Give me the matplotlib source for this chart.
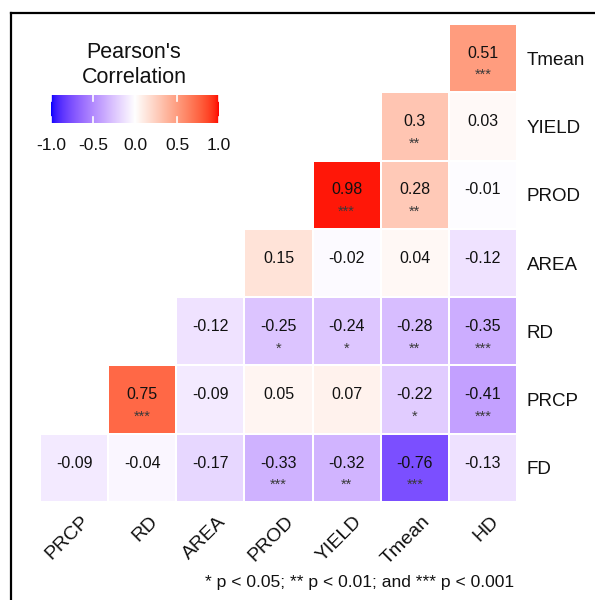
import numpy as np
import matplotlib
matplotlib.use("Agg")
import matplotlib.pyplot as plt
from matplotlib.colors import ListedColormap, Normalize
from matplotlib.lines import Line2D

plt.rcParams["font.family"] = ["Liberation Sans", "DejaVu Sans"]

# ---- data -------------------------------------------------------------
col_labels = ["PRCP", "RD", "AREA", "PROD", "YIELD", "Tmean", "HD"]
row_labels = ["Tmean", "YIELD", "PROD", "AREA", "RD", "PRCP", "FD"]

nan = np.nan
r_tmean = [nan, nan, nan, nan, nan, nan, 0.51]
r_yield = [nan, nan, nan, nan, nan, 0.30, 0.03]
r_prod  = [nan, nan, nan, nan, 0.98, 0.28, -0.01]
r_area  = [nan, nan, nan, 0.15, -0.02, 0.04, -0.12]
r_rd    = [nan, nan, -0.12, -0.25, -0.24, -0.28, -0.35]
r_prcp  = [nan, 0.75, -0.09, 0.05, 0.07, -0.22, -0.41]
r_fd    = [-0.09, -0.04, -0.17, -0.33, -0.32, -0.76, -0.13]

s_tmean = ["", "", "", "", "", "", "***"]
s_yield = ["", "", "", "", "", "**", ""]
s_prod  = ["", "", "", "", "***", "**", ""]
s_area  = ["", "", "", "", "", "", ""]
s_rd    = ["", "", "", "*", "*", "**", "***"]
s_prcp  = ["", "***", "", "", "", "*", "***"]
s_fd    = ["", "", "", "***", "**", "***", ""]

legend_ticks = [-1.0, -0.5, 0.0, 0.5, 1.0]
caption = "* p < 0.05; ** p < 0.01; and *** p < 0.001"

corr = np.array([r_tmean, r_yield, r_prod, r_area, r_rd, r_prcp, r_fd])
stars = [s_tmean, s_yield, s_prod, s_area, s_rd, s_prcp, s_fd]


# ---- diverging blue-white-red palette interpolated in CIELAB ------------
def _to_lab(rgb):
    c = np.asarray(rgb, float)
    lin = np.where(c <= 0.04045, c / 12.92, ((c + 0.055) / 1.055) ** 2.4)
    M = np.array([[0.4124564, 0.3575761, 0.1804375],
                  [0.2126729, 0.7151522, 0.0721750],
                  [0.0193339, 0.1191920, 0.9503041]])
    xyz = M @ lin / np.array([0.95047, 1.0, 1.08883])
    d = 6 / 29
    f = np.where(xyz > d ** 3, np.cbrt(xyz), xyz / (3 * d * d) + 4 / 29)
    return np.array([116 * f[1] - 16, 500 * (f[0] - f[1]), 200 * (f[1] - f[2])])


def _from_lab(lab):
    L, a, b = lab
    fy = (L + 16) / 116
    fx = fy + a / 500
    fz = fy - b / 200
    d = 6 / 29
    finv = lambda t: np.where(t > d, t ** 3, 3 * d * d * (t - 4 / 29))
    xyz = np.array([finv(fx), finv(fy), finv(fz)]) * np.array([0.95047, 1.0, 1.08883])
    Minv = np.array([[3.2404542, -1.5371385, -0.4985314],
                     [-0.9692660, 1.8760108, 0.0415560],
                     [0.0556434, -0.2040259, 1.0572252]])
    lin = np.clip(Minv @ xyz, 0, 1)
    c = np.where(lin <= 0.0031308, 12.92 * lin, 1.055 * lin ** (1 / 2.4) - 0.055)
    return np.clip(c, 0, 1)


lab_blue = _to_lab([0, 0, 1])
lab_white = _to_lab([1, 1, 1])
lab_red = _to_lab([1, 0, 0])
colors = []
for t in np.linspace(-1, 1, 513):
    if t < 0:
        lab = lab_white + (-t) * (lab_blue - lab_white)
    else:
        lab = lab_white + t * (lab_red - lab_white)
    colors.append(_from_lab(lab))
cmap = ListedColormap(colors)
norm = Normalize(-1, 1)

# ---- figure -----------------------------------------------------------
W, H = 595, 600
fig = plt.figure(figsize=(W / 100, H / 100), dpi=100)
TXT = "#111111"


def px_axes(x0, y0, x1, y1):
    return fig.add_axes([x0 / W, 1 - y1 / H, (x1 - x0) / W, (y1 - y0) / H])


# outer frame
fig.add_artist(Line2D([11 / W, 11 / W], [1 - 13 / H, -0.05], color="black", lw=1.6,
                      transform=fig.transFigure))
fig.add_artist(Line2D([11 / W, 1.05], [1 - 13 / H, 1 - 13 / H], color="black", lw=1.6,
                      transform=fig.transFigure))

ax = px_axes(40, 24, 517, 502)
nr, nc = corr.shape
ax.pcolormesh(np.arange(nc + 1), np.arange(nr + 1), np.ma.masked_invalid(corr),
              cmap=cmap, norm=norm, edgecolors="white", linewidth=1.3)
ax.set_xlim(0, nc)
ax.set_ylim(nr, 0)
ax.set_axis_off()

for i in range(nr):
    for j in range(nc):
        v = corr[i, j]
        if np.isnan(v):
            continue
        txt = str(round(float(v), 2))
        ax.text(j + 0.5, i + 0.43, txt, ha="center", va="center",
                fontsize=11.5, color=TXT)
        if stars[i][j]:
            ax.text(j + 0.5, i + 0.75, stars[i][j], ha="center", va="center",
                    fontsize=10.5, color="#3a3a3a")

for i, lab in enumerate(row_labels):
    ax.text(nc + 0.14, i + 0.53, lab, ha="left", va="center", fontsize=13.5,
            color=TXT, clip_on=False)

for j, lab in enumerate(col_labels):
    ax.text(j + 0.6, nr + 0.16, lab, ha="right", va="top", rotation=45,
            rotation_mode="anchor", fontsize=14, color=TXT, clip_on=False)

# ---- legend -----------------------------------------------------------
fig.text(134 / W, 1 - 65 / H, "Pearson's\nCorrelation", ha="center", va="center",
         fontsize=15.5, linespacing=1.25, color=TXT)

cax = px_axes(51, 95, 219, 123)
grad = np.linspace(-1, 1, 256)[None, :]
cax.imshow(grad, cmap=cmap, norm=norm, aspect="auto", extent=(-1, 1, 0, 1))
cax.set_xlim(-1, 1)
cax.set_ylim(0, 1)
cax.set_axis_off()
for t in legend_ticks:
    cax.plot([t, t], [0, 0.2], color="white", lw=1.2)
    cax.plot([t, t], [0.8, 1], color="white", lw=1.2)
    fig.text((135 + t * 84) / W, 1 - 145 / H, f"{t:.1f}", ha="center", va="center",
             fontsize=12.5, color=TXT)

fig.text(514 / W, 1 - 583 / H, caption, ha="right", va="center", fontsize=12.6,
         color=TXT)

fig.savefig("out.png", dpi=100)
